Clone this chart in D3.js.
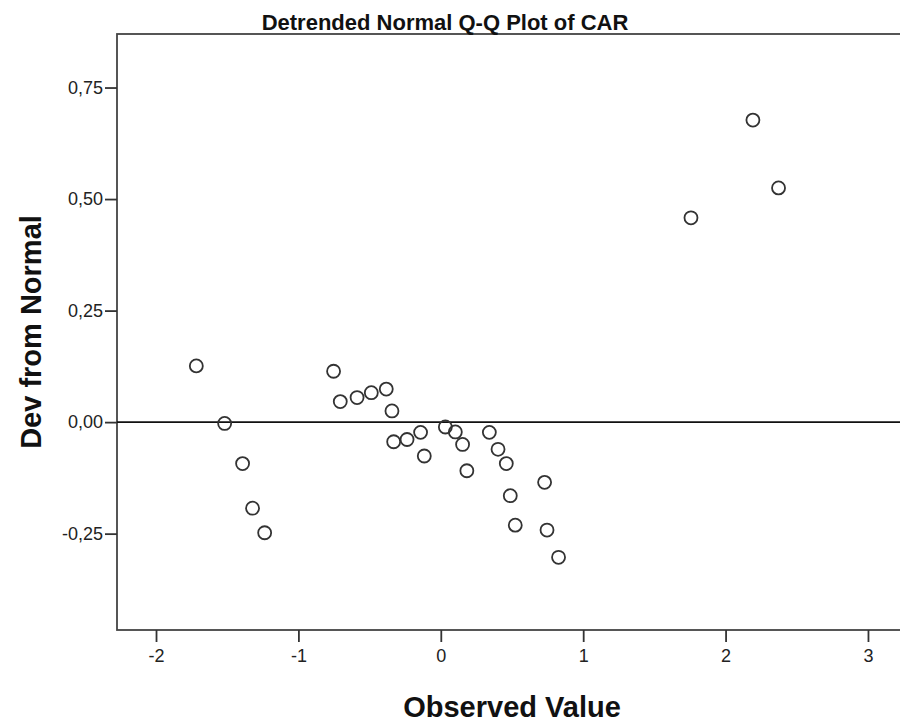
<!DOCTYPE html>
<html>
<head>
<meta charset="utf-8">
<script src="https://cdn.jsdelivr.net/npm/d3@7"></script>
<style>
  body { margin: 0; background: #fff; }
  text { font-family: "Liberation Sans", Arial, sans-serif; }
</style>
</head>
<body>
<div id="chart"></div>
<script>
var observed = [-1.717, -1.518, -1.392, -1.322, -1.237, -0.753, -0.706, -0.588, -0.488, -0.383,
                -0.343, -0.331, -0.237, -0.142, -0.116, 0.032, 0.102, 0.153, 0.183, 0.341,
                0.402, 0.460, 0.488, 0.523, 0.729, 0.746, 0.827, 1.757, 2.192, 2.372];
var deviation = [0.126, -0.003, -0.093, -0.193, -0.248, 0.114, 0.046, 0.055, 0.066, 0.074,
                 0.025, -0.044, -0.039, -0.023, -0.076, -0.011, -0.022, -0.050, -0.109, -0.023,
                 -0.061, -0.093, -0.165, -0.231, -0.135, -0.242, -0.303, 0.458, 0.677, 0.525];
var xTicks = [-2, -1, 0, 1, 2, 3];
var yTicks = [-0.25, 0, 0.25, 0.5, 0.75];

var width = 900, height = 722;
var plotLeft = 117, plotTop = 34, plotRight = 901, plotBottom = 630;

var svg = d3.select("#chart").append("svg")
    .attr("width", width)
    .attr("height", height);

var x = d3.scaleLinear()
    .domain([-2.274, 3.232])
    .range([plotLeft, plotRight]);
var y = d3.scaleLinear()
    .domain([-0.466, 0.870])
    .range([plotBottom, plotTop]);

var fmt = function(d) { return d3.format(".2f")(d).replace(".", ",").replace("−", "-"); };

// frame
svg.append("rect")
    .attr("x", plotLeft).attr("y", plotTop)
    .attr("width", plotRight - plotLeft).attr("height", plotBottom - plotTop)
    .attr("fill", "none")
    .attr("stroke", "#444")
    .attr("stroke-width", 1.8);

// reference line at zero
svg.append("line")
    .attr("x1", plotLeft).attr("x2", plotRight)
    .attr("y1", y(0)).attr("y2", y(0))
    .attr("stroke", "#111")
    .attr("stroke-width", 1.9);

var xAxis = svg.append("g")
    .attr("transform", "translate(0," + plotBottom + ")")
    .call(d3.axisBottom(x).tickValues(xTicks).tickSize(12).tickPadding(7).tickFormat(d3.format("d")));
var yAxis = svg.append("g")
    .attr("transform", "translate(" + plotLeft + ",0)")
    .call(d3.axisLeft(y).tickValues(yTicks).tickSize(12).tickPadding(2).tickFormat(fmt));

[xAxis, yAxis].forEach(function(g) {
    g.select(".domain").remove();
    g.selectAll(".tick line").attr("stroke", "#333").attr("stroke-width", 1.8);
    g.selectAll(".tick text")
        .attr("fill", "#222")
        .style("font-size", "18px")
        .style("font-family", "'Liberation Sans', Arial, sans-serif");
});
xAxis.selectAll(".tick text").text(function(d) { return d3.format("d")(d).replace("−", "-"); });

// points
svg.append("g").selectAll("circle")
    .data(observed)
    .enter().append("circle")
    .attr("cx", function(d) { return x(d); })
    .attr("cy", function(d, i) { return y(deviation[i]); })
    .attr("r", 6.5)
    .attr("fill", "none")
    .attr("stroke", "#333")
    .attr("stroke-width", 1.8);

// title and axis titles
svg.append("text")
    .attr("x", 445).attr("y", 30)
    .attr("text-anchor", "middle")
    .style("font-weight", "bold")
    .style("font-size", "22px")
    .attr("fill", "#111")
    .text("Detrended Normal Q-Q Plot of CAR");

svg.append("text")
    .attr("x", 512).attr("y", 717)
    .attr("text-anchor", "middle")
    .style("font-weight", "bold")
    .style("font-size", "29px")
    .attr("fill", "#111")
    .text("Observed Value");

svg.append("text")
    .attr("transform", "translate(41,332) rotate(-90)")
    .attr("text-anchor", "middle")
    .style("font-weight", "bold")
    .style("font-size", "29px")
    .attr("fill", "#111")
    .text("Dev from Normal");
</script>
</body>
</html>
